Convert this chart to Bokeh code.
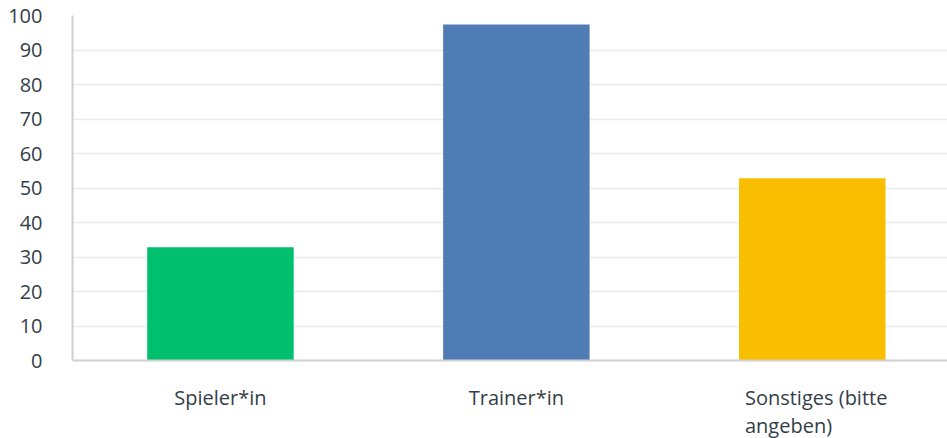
from bokeh.plotting import figure
from bokeh.models import ColumnDataSource, FixedTicker, Range1d, Span
from bokeh.core.properties import value
from bokeh.embed import file_html
from bokeh.resources import INLINE

categories = ["Spieler*in", "Trainer*in", "Sonstiges (bitte\nangeben)"]
values = [32.8, 97.4, 52.8]
colors = ["#00bf6f", "#507cb6", "#f9be00"]
label_align = ["center", "center", "left"]
y_ticks = list(range(0, 101, 10))

FONT = "Open Sans"
TEXT_COLOR = "#333e48"

xs = list(range(len(categories)))
bar_width = 0.495

src = ColumnDataSource(dict(x=xs, top=values, color=colors))
label_x = [x if a == "center" else x - bar_width / 2 + 0.02 for x, a in zip(xs, label_align)]
lab_src = ColumnDataSource(dict(x=label_x, y=[-6.9] * len(xs), text=categories, align=label_align))

p = figure(width=947, height=438, output_backend="svg", toolbar_location=None,
           x_range=Range1d(-0.5, 2.457), y_range=Range1d(-22.6, 100),
           min_border_left=72, min_border_right=0, min_border_top=15, min_border_bottom=0)
p.outline_line_color = None
p.background_fill_color = "white"
p.border_fill_color = "white"

p.vbar(x="x", top="top", width=bar_width, color="color", source=src, line_color=None)

p.xgrid.visible = False
p.ygrid.grid_line_color = "#ebebeb"
p.ygrid.grid_line_width = 1.5
p.ygrid.ticker = FixedTicker(ticks=y_ticks)

p.yaxis.ticker = FixedTicker(ticks=y_ticks)
p.yaxis.bounds = (0, 100)
p.yaxis.axis_line_color = "#d0d0d0"
p.yaxis.axis_line_width = 2
p.yaxis.major_tick_line_color = None
p.yaxis.minor_tick_line_color = None
p.yaxis.major_label_standoff = 24
p.yaxis.major_label_text_font = FONT
p.yaxis.major_label_text_font_size = "20px"
p.yaxis.major_label_text_color = TEXT_COLOR

p.xaxis.visible = False
p.add_layout(Span(location=0, dimension="width", line_color="#d0d0d0", line_width=2))

p.text(x="x", y="y", text="text", source=lab_src, text_align="align",
       text_baseline="top", text_font=value(FONT), text_font_size="20px",
       text_color=TEXT_COLOR, text_line_height=1.03)

open("out.html", "w").write(file_html(p, INLINE))
